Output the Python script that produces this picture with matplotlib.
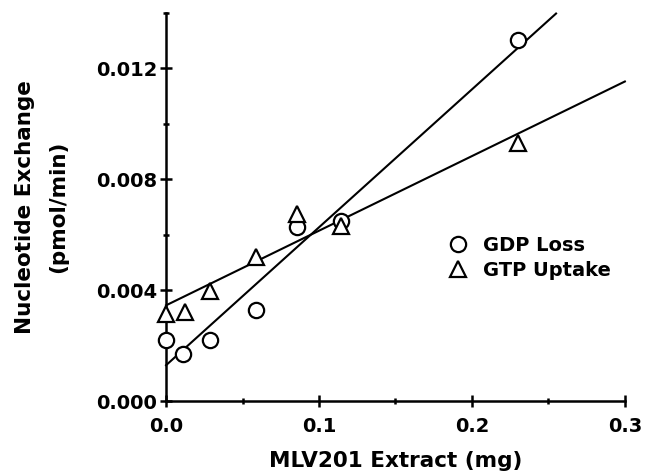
import numpy as np
import matplotlib
matplotlib.use("Agg")
import matplotlib.pyplot as plt
from matplotlib.ticker import MultipleLocator, FormatStrFormatter

# values
gdp_x = [0.0, 0.011, 0.029, 0.0585, 0.0854, 0.1144, 0.230]
gdp_y = [0.00219, 0.00169, 0.00219, 0.00329, 0.00626, 0.00650, 0.01300]
gtp_x = [0.0, 0.0122, 0.029, 0.0585, 0.0858, 0.1144, 0.230]
gtp_y = [0.00315, 0.00320, 0.00398, 0.00518, 0.00674, 0.00632, 0.00931]

# fitted lines (end points)
gdp_fit_x = [0.0, 0.255]
gdp_fit_y = [0.00129, 0.01397]
gtp_fit_x = [0.0, 0.300]
gtp_fit_y = [0.00345, 0.01152]

plt.rcParams["font.family"] = ["DejaVu Sans"]
plt.rcParams["font.weight"] = "bold"

fig = plt.figure(figsize=(6.55, 4.76), dpi=100)
ax = fig.add_axes([0.2535, 0.1575, 0.7005, 0.8158])

ax.plot(gdp_fit_x, gdp_fit_y, color="black", lw=1.5, clip_on=False)
ax.plot(gtp_fit_x, gtp_fit_y, color="black", lw=1.5, clip_on=False)

ax.plot(gdp_x, gdp_y, "o", ms=11, mfc="white", mec="black", mew=1.6,
        clip_on=False, zorder=3, label="GDP Loss")
ax.plot(gtp_x, gtp_y, "^", ms=11, mfc="white", mec="black", mew=1.6,
        clip_on=False, zorder=3, label="GTP Uptake")

ax.set_xlim(0, 0.3)
ax.set_ylim(0, 0.014)

for s in ["top", "right"]:
    ax.spines[s].set_visible(False)
for s in ["left", "bottom"]:
    ax.spines[s].set_linewidth(1.8)

ax.xaxis.set_major_locator(MultipleLocator(0.1))
ax.xaxis.set_minor_locator(MultipleLocator(0.05))
ax.yaxis.set_major_locator(MultipleLocator(0.004))
ax.yaxis.set_minor_locator(MultipleLocator(0.002))
ax.xaxis.set_major_formatter(FormatStrFormatter("%.1f"))
ax.yaxis.set_major_formatter(FormatStrFormatter("%.3f"))

ax.tick_params(which="major", direction="inout", length=9, width=1.8,
               labelsize=14)
ax.tick_params(which="minor", direction="inout", length=4, width=1.8)
ax.tick_params(axis="y", which="major", pad=2)
ax.tick_params(axis="x", which="major", pad=7)

ax.set_xlabel("MLV201 Extract (mg)", fontsize=15.5, fontweight="bold", labelpad=11)
ax.set_ylabel("Nucleotide Exchange\n(pmol/min)", fontsize=15.5,
              fontweight="bold", labelpad=20, linespacing=1.8)

ax.legend(loc="upper left", bbox_to_anchor=(0.615, 0.425), frameon=False,
          fontsize=14, handlelength=1.0, handletextpad=0.8,
          labelspacing=0.3, borderaxespad=0, borderpad=0)

fig.savefig("out.png", dpi=100)
